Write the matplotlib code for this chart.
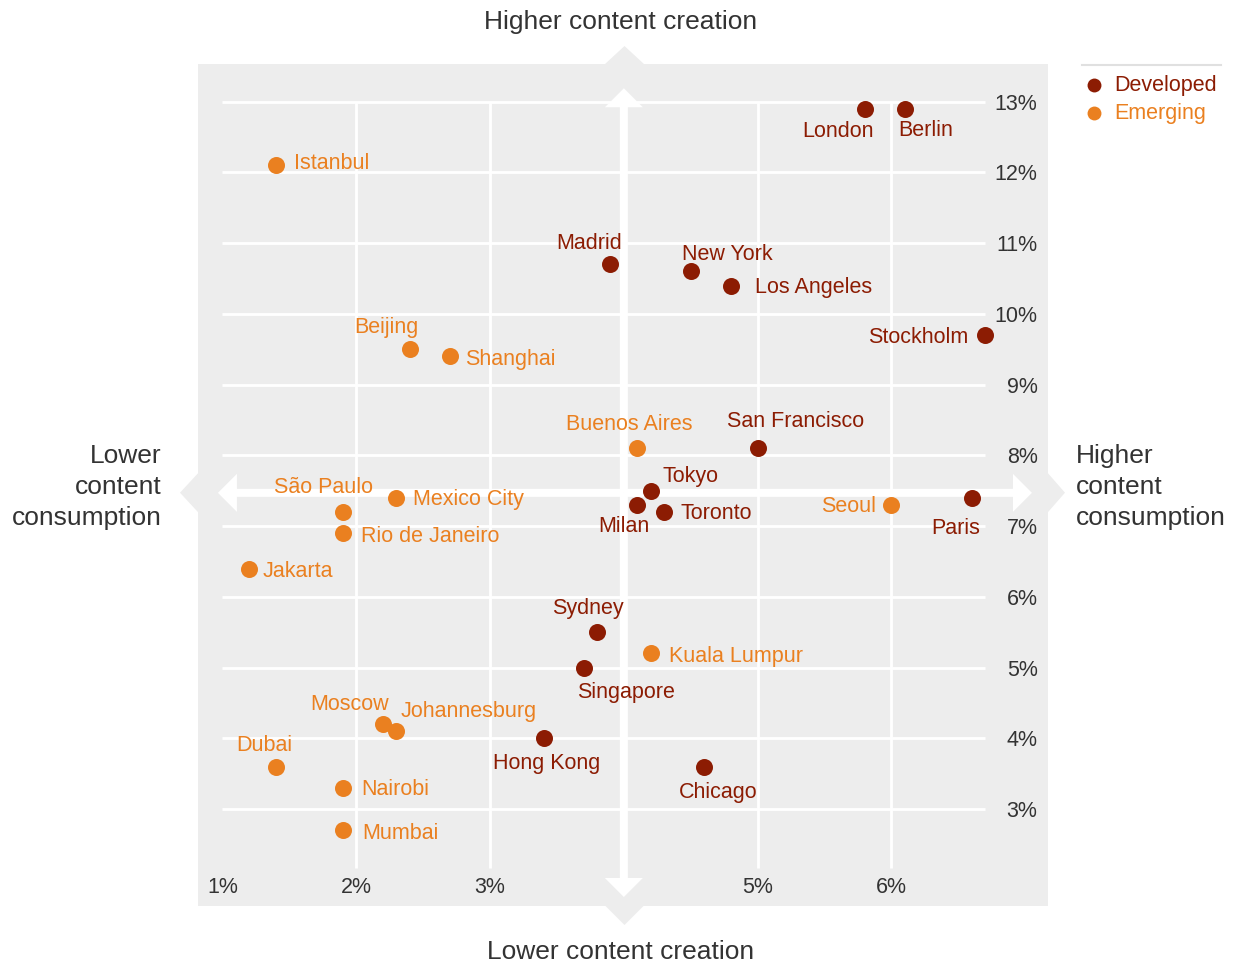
import numpy as np
import matplotlib
matplotlib.use("Agg")
import matplotlib.pyplot as plt
from matplotlib.patches import Polygon, FancyArrow
from matplotlib.lines import Line2D

plt.rcParams['font.family'] = ['Liberation Sans', 'DejaVu Sans']

# data: x = content consumption (%), y = content creation (%)
dev_cities = ["London", "Berlin", "Madrid", "New York", "Los Angeles", "Stockholm",
              "San Francisco", "Tokyo", "Milan", "Toronto", "Paris", "Sydney",
              "Singapore", "Hong Kong", "Chicago"]
dev_consumption = [5.8, 6.1, 3.9, 4.5, 4.8, 6.7, 5.0, 4.2, 4.1, 4.3, 6.6, 3.8, 3.7, 3.4, 4.6]
dev_creation = [12.9, 12.9, 10.7, 10.6, 10.4, 9.7, 8.1, 7.5, 7.3, 7.2, 7.4, 5.5, 5.0, 4.0, 3.6]

emg_cities = ["Istanbul", "Beijing", "Shanghai", "Buenos Aires", "São Paulo", "Mexico City",
              "Rio de Janeiro", "Jakarta", "Seoul", "Kuala Lumpur", "Moscow", "Johannesburg",
              "Dubai", "Nairobi", "Mumbai"]
emg_consumption = [1.4, 2.4, 2.7, 4.1, 1.9, 2.3, 1.9, 1.2, 6.0, 4.2, 2.2, 2.3, 1.4, 1.9, 1.9]
emg_creation = [12.1, 9.5, 9.4, 8.1, 7.2, 7.4, 6.9, 6.4, 7.3, 5.2, 4.2, 4.1, 3.6, 3.3, 2.7]

x_ticks = [1, 2, 3, 5, 6]
y_ticks = [3, 4, 5, 6, 7, 8, 9, 10, 11, 12, 13]

dev_color = '#8c1c03'
emg_color = '#ea8020'
text_color = '#333333'
panel_color = '#ededed'

# label offsets in pixels (dx, dy, ha)
label_pos = {
    "Istanbul": (18, 4, 'left'), "Madrid": (12, 23, 'right'), "Beijing": (9, 24, 'right'),
    "Shanghai": (15, -1, 'left'), "London": (9, -21, 'right'), "Berlin": (-7, -20, 'left'),
    "New York": (-9, 19, 'left'), "Los Angeles": (24, 0, 'left'), "Stockholm": (-17, 0, 'right'),
    "São Paulo": (30, 26, 'right'), "Rio de Janeiro": (18, -1, 'left'),
    "Mexico City": (17, 0, 'left'), "Jakarta": (13, -1, 'left'), "Sydney": (27, 26, 'right'),
    "Singapore": (-7, -23, 'left'), "Buenos Aires": (-8, 26, 'center'),
    "San Francisco": (-31, 29, 'left'), "Tokyo": (12, 16, 'left'), "Milan": (12, -20, 'right'),
    "Toronto": (16, 0, 'left'), "Seoul": (-15, 0, 'right'), "Paris": (8, -29, 'right'),
    "Kuala Lumpur": (18, -1, 'left'), "Moscow": (6, 22, 'right'),
    "Johannesburg": (4, 22, 'left'), "Hong Kong": (3, -23, 'center'),
    "Dubai": (-12, 23, 'center'), "Nairobi": (18, 0, 'left'), "Mumbai": (19, -1, 'left'),
    "Chicago": (14, -24, 'center'),
}

W, H = 1234, 964
fig = plt.figure(figsize=(W / 100, H / 100), dpi=100)
ax = fig.add_axes([198 / W, 1 - 905.7 / H, 850 / W, 841.7 / H])
ax.set_facecolor(panel_color)
ax.set_xlim(0.817, 7.17)
ax.set_ylim(1.633, 13.533)
for s in ax.spines.values():
    s.set_visible(False)

def fig_px(x, y):
    return (x / W, 1 - y / H)

# grid
ax.hlines(y_ticks, 1, 6.7, color='white', lw=2, zorder=1)
ax.vlines(x_ticks[1:], 2.17, 13, color='white', lw=2, zorder=1)

# ticks
ax.set_xticks(x_ticks)
ax.set_xticklabels([f"{v}%" for v in x_ticks])
ax.yaxis.tick_right()
ax.set_yticks(y_ticks)
ax.set_yticklabels([f"{v}%" for v in y_ticks])
ax.tick_params(length=0, labelsize=15.5, labelcolor=text_color)
ax.tick_params(axis='x', pad=-13)
ax.tick_params(axis='y', pad=-7.5)
plt.setp(ax.get_xticklabels(), va='center')
plt.setp(ax.get_yticklabels(), ha='right')

# quadrant arrows
xm, ym = 4.0, 7.47
ppx = (7.17 - 0.817) / 850      # data units per pixel in x
ppy = (13.533 - 1.633) / 841.7  # data units per pixel in y
for tip in (13.19, 1.756):
    ax.add_patch(FancyArrow(xm, ym, 0, tip - ym, width=8 * ppx, head_width=38 * ppx,
                            head_length=19 * ppy, length_includes_head=True,
                            color='white', lw=0, zorder=2))
for tip in (0.966, 7.05):
    ax.add_patch(FancyArrow(xm, ym, tip - xm, 0, width=8 * ppy, head_width=38 * ppy,
                            head_length=19 * ppx, length_includes_head=True,
                            color='white', lw=0, zorder=2))

# chevrons outside the panel
cx, cy = 624.5, 492.7
chevrons = [
    [(cx, 46), (cx - 20, 64.5), (cx + 20, 64.5)],
    [(cx, 925), (cx - 20, 905), (cx + 20, 905)],
    [(180, cy), (198.5, cy - 20), (198.5, cy + 20)],
    [(1065, cy), (1047.5, cy - 20), (1047.5, cy + 20)],
]
for pts in chevrons:
    fig.add_artist(Polygon([fig_px(*p) for p in pts], closed=True,
                           transform=fig.transFigure, color=panel_color, lw=0))

# points and labels
groups = [(dev_cities, dev_consumption, dev_creation, dev_color),
          (emg_cities, emg_consumption, emg_creation, emg_color)]
for cities, xs, ys, col in groups:
    ax.scatter(xs, ys, s=150, color=col, zorder=3, linewidths=0)
    for name, x, y in zip(cities, xs, ys):
        dx, dy, ha = label_pos[name]
        ax.annotate(name, (x, y), xytext=(dx, dy - 2), textcoords='offset pixels',
                    ha=ha, va='center', fontsize=15.5, color=col, zorder=4)

# axis descriptions
fig.text(*fig_px(621, 22), "Higher content creation", ha='center', va='center',
         fontsize=19, color=text_color)
fig.text(*fig_px(621, 952), "Lower content creation", ha='center', va='center',
         fontsize=19, color=text_color)
fig.text(*fig_px(162, 487), "Lower\ncontent\nconsumption", ha='right', va='center',
         fontsize=19, color=text_color, multialignment='right', linespacing=1.38)
fig.text(*fig_px(1076, 487), "Higher\ncontent\nconsumption", ha='left', va='center',
         fontsize=19, color=text_color, multialignment='left', linespacing=1.38)

# legend
fig.add_artist(Line2D([1082 / W, 1221 / W], [1 - 65 / H, 1 - 65 / H],
                      transform=fig.transFigure, color='#e0e0e0', lw=1.5))
legend_items = [("Developed", dev_color), ("Emerging", emg_color)]
for i, (name, col) in enumerate(legend_items):
    yy = 85 + i * 28
    fig.add_artist(Line2D([1094 / W], [1 - yy / H], transform=fig.transFigure,
                          marker='o', ms=10, color=col, mew=0, lw=0))
    fig.text(*fig_px(1114, yy + 1), name, ha='left', va='center', fontsize=15.5, color=col)

fig.savefig("out.png", dpi=100)
